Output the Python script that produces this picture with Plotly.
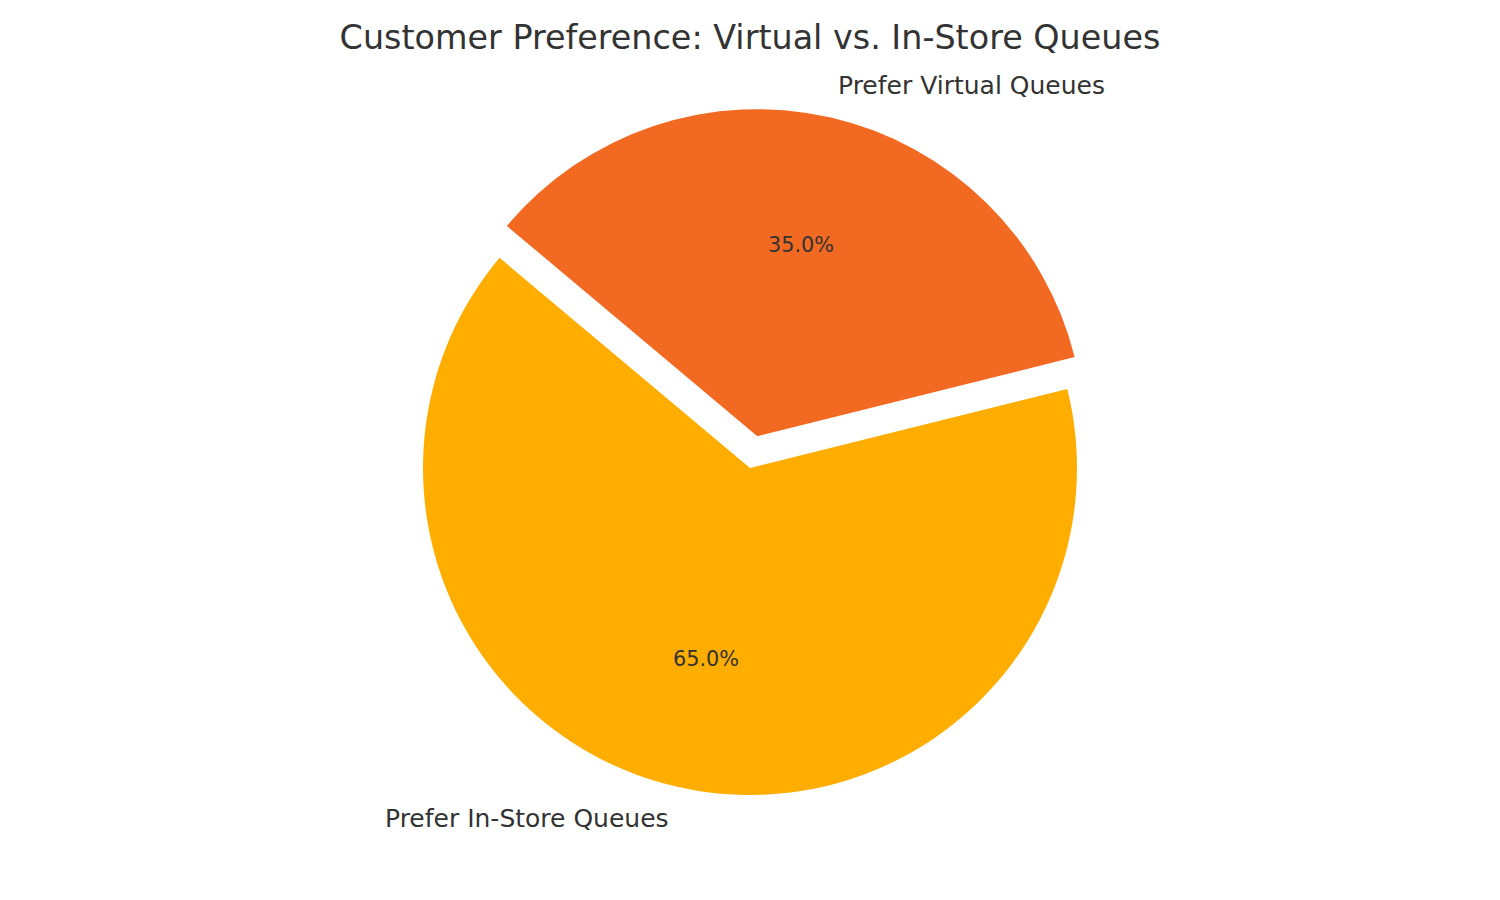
import numpy as np
import plotly.graph_objects as go

# data (matplotlib-style pie: startangle 140, counterclockwise)
labels = ['Prefer In-Store Queues', 'Prefer Virtual Queues']
sizes = [65, 35]
explode = [0, 0.1]
colors = ['#FFAE00', '#F26922']
start_angle = 140

W, H = 1500, 900
OFF = 8                     # page body margin shifts the figure by 8px
cx, cy, r = 750 - OFF, 468 - OFF, 327   # pie centre / radius in pixels

fracs = np.array(sizes) / sum(sizes)

# plotly measures rotation clockwise from 12 o'clock; first slice spans [rot, rot + its angle]
end_first = start_angle + 360 * fracs[0]
rotation = (90 - end_first) % 360

half = r * (1 + max(explode))
dom_y = [1 - (cy + half) / H, 1 - (cy - half) / H]

fig = go.Figure()
fig.add_trace(go.Pie(
    labels=labels,
    values=sizes,
    pull=explode,
    marker=dict(colors=colors),
    sort=False,
    direction='counterclockwise',
    rotation=rotation,
    textinfo='none',
    hoverinfo='label+percent',
    showlegend=False,
    domain=dict(x=[0, 2 * cx / W], y=dom_y),
))

# labels at 1.1 r and percentages at 0.6 r, like matplotlib
annotations = []
theta = start_angle
for lab, frac, ex in zip(labels, fracs, explode):
    mid = np.deg2rad(theta + 180 * frac)
    ox = cx + ex * r * np.cos(mid)
    oy = cy - ex * r * np.sin(mid)
    lx = ox + 1.1 * r * np.cos(mid)
    ly = oy - 1.1 * r * np.sin(mid)
    px_ = ox + 0.6 * r * np.cos(mid)
    py_ = oy - 0.6 * r * np.sin(mid)
    annotations.append(dict(
        x=lx / W, y=1 - ly / H, xref='paper', yref='paper',
        text=lab, showarrow=False,
        xanchor='left' if np.cos(mid) > 0 else 'right', yanchor='middle',
        borderpad=0, borderwidth=0,
        font=dict(size=25, color='#333333'),
    ))
    annotations.append(dict(
        x=px_ / W, y=1 - py_ / H, xref='paper', yref='paper',
        text=f'{frac * 100:.1f}%', showarrow=False,
        xanchor='center', yanchor='middle',
        borderpad=0, borderwidth=0,
        font=dict(size=20.8, color='#333333'),
    ))
    theta += 360 * frac

fig.update_layout(
    width=W, height=H,
    margin=dict(l=0, r=0, t=0, b=0),
    paper_bgcolor='white',
    plot_bgcolor='white',
    font=dict(family='DejaVu Sans', color='#333333'),
    title=dict(
        text='Customer Preference: Virtual vs. In-Store Queues',
        x=cx / W, xanchor='center',
        y=1 - (37 - OFF) / H, yanchor='middle', yref='container',
        font=dict(size=33.4, color='#333333'),
    ),
    annotations=annotations,
)

fig.write_html('out.html')
